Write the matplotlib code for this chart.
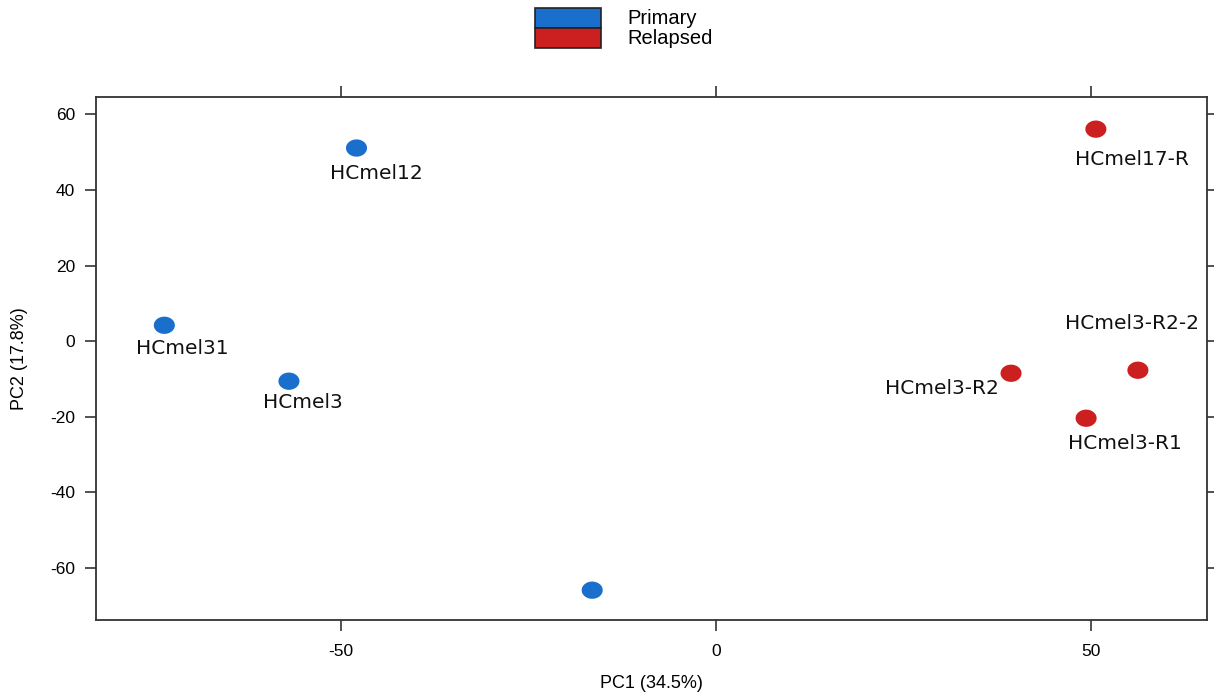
import numpy as np
import matplotlib.pyplot as plt
from matplotlib.patches import Rectangle
from matplotlib.path import Path

# PCA scores
samples = ["HCmel12", "HCmel31", "HCmel3", "", "HCmel17-R", "HCmel3-R2", "HCmel3-R2-2", "HCmel3-R1"]
pc1 = [-47.9, -73.5, -56.9, -16.5, 50.6, 39.3, 56.2, 49.3]
pc2 = [51.1, 4.2, -10.6, -65.9, 56.1, -8.5, -7.7, -20.4]
group = ["Primary", "Primary", "Primary", "Primary", "Relapsed", "Relapsed", "Relapsed", "Relapsed"]

groups = ["Primary", "Relapsed"]
group_colors = {"Primary": "#1a6fcd", "Relapsed": "#cc2020"}

# label offsets in points (dx, dy)
label_offsets = [(14, -18), (13, -17), (10, -15), (0, 0),
                 (26, -22), (-50, -11), (-4, 34), (28, -18)]

plt.rcParams["font.family"] = ["Liberation Sans", "DejaVu Sans"]
plt.rcParams["axes.unicode_minus"] = False

fig = plt.figure(figsize=(12.14, 6.92), dpi=100)
ax = fig.add_axes([0.0791, 0.104, 0.9151, 0.7558])

t = np.linspace(0, 2 * np.pi, 60)
ellipse = Path(np.column_stack([np.cos(t), 0.82 * np.sin(t)]), closed=True)

cols = [group_colors[g] for g in group]
ax.scatter(pc1, pc2, s=230, marker=ellipse, c=cols, edgecolors="none", zorder=3)

for name, x, y, (dx, dy) in zip(samples, pc1, pc2, label_offsets):
    if not name:
        continue
    ax.annotate(name, (x, y), xytext=(dx, dy), textcoords="offset points",
                ha="center", va="center", fontsize=14.5, family="DejaVu Sans", color="#111111")

ax.set_xlim(-82.6, 65.4)
ax.set_ylim(-73.8, 64.6)
ax.set_xticks([-50, 0, 50])
ax.set_yticks([-60, -40, -20, 0, 20, 40, 60])
ax.tick_params(direction="out", length=8, width=1.2, color="#333333", labelsize=12.5,
               top=True, right=True, labeltop=False, labelright=False)
ax.tick_params(axis="x", pad=9)
ax.tick_params(axis="y", pad=7)
for sp in ax.spines.values():
    sp.set_linewidth(1.3)
    sp.set_color("#333333")
ax.set_xlabel("PC1 (34.5%)", fontsize=13, labelpad=12)
ax.set_ylabel("PC2 (17.8%)", fontsize=13, labelpad=16)

# legend block at the top
for i, g in enumerate(groups):
    y0 = 1 - (8 + 20 * (i + 1)) / 692
    fig.patches.append(Rectangle((535 / 1214, y0), 66 / 1214, 20 / 692, transform=fig.transFigure,
                                 facecolor=group_colors[g], edgecolor="#222222", linewidth=1.2))
    fig.text(627 / 1214, y0 + 10 / 692, g, fontsize=14.5, va="center", ha="left")

fig.savefig("out.png", dpi=100)
